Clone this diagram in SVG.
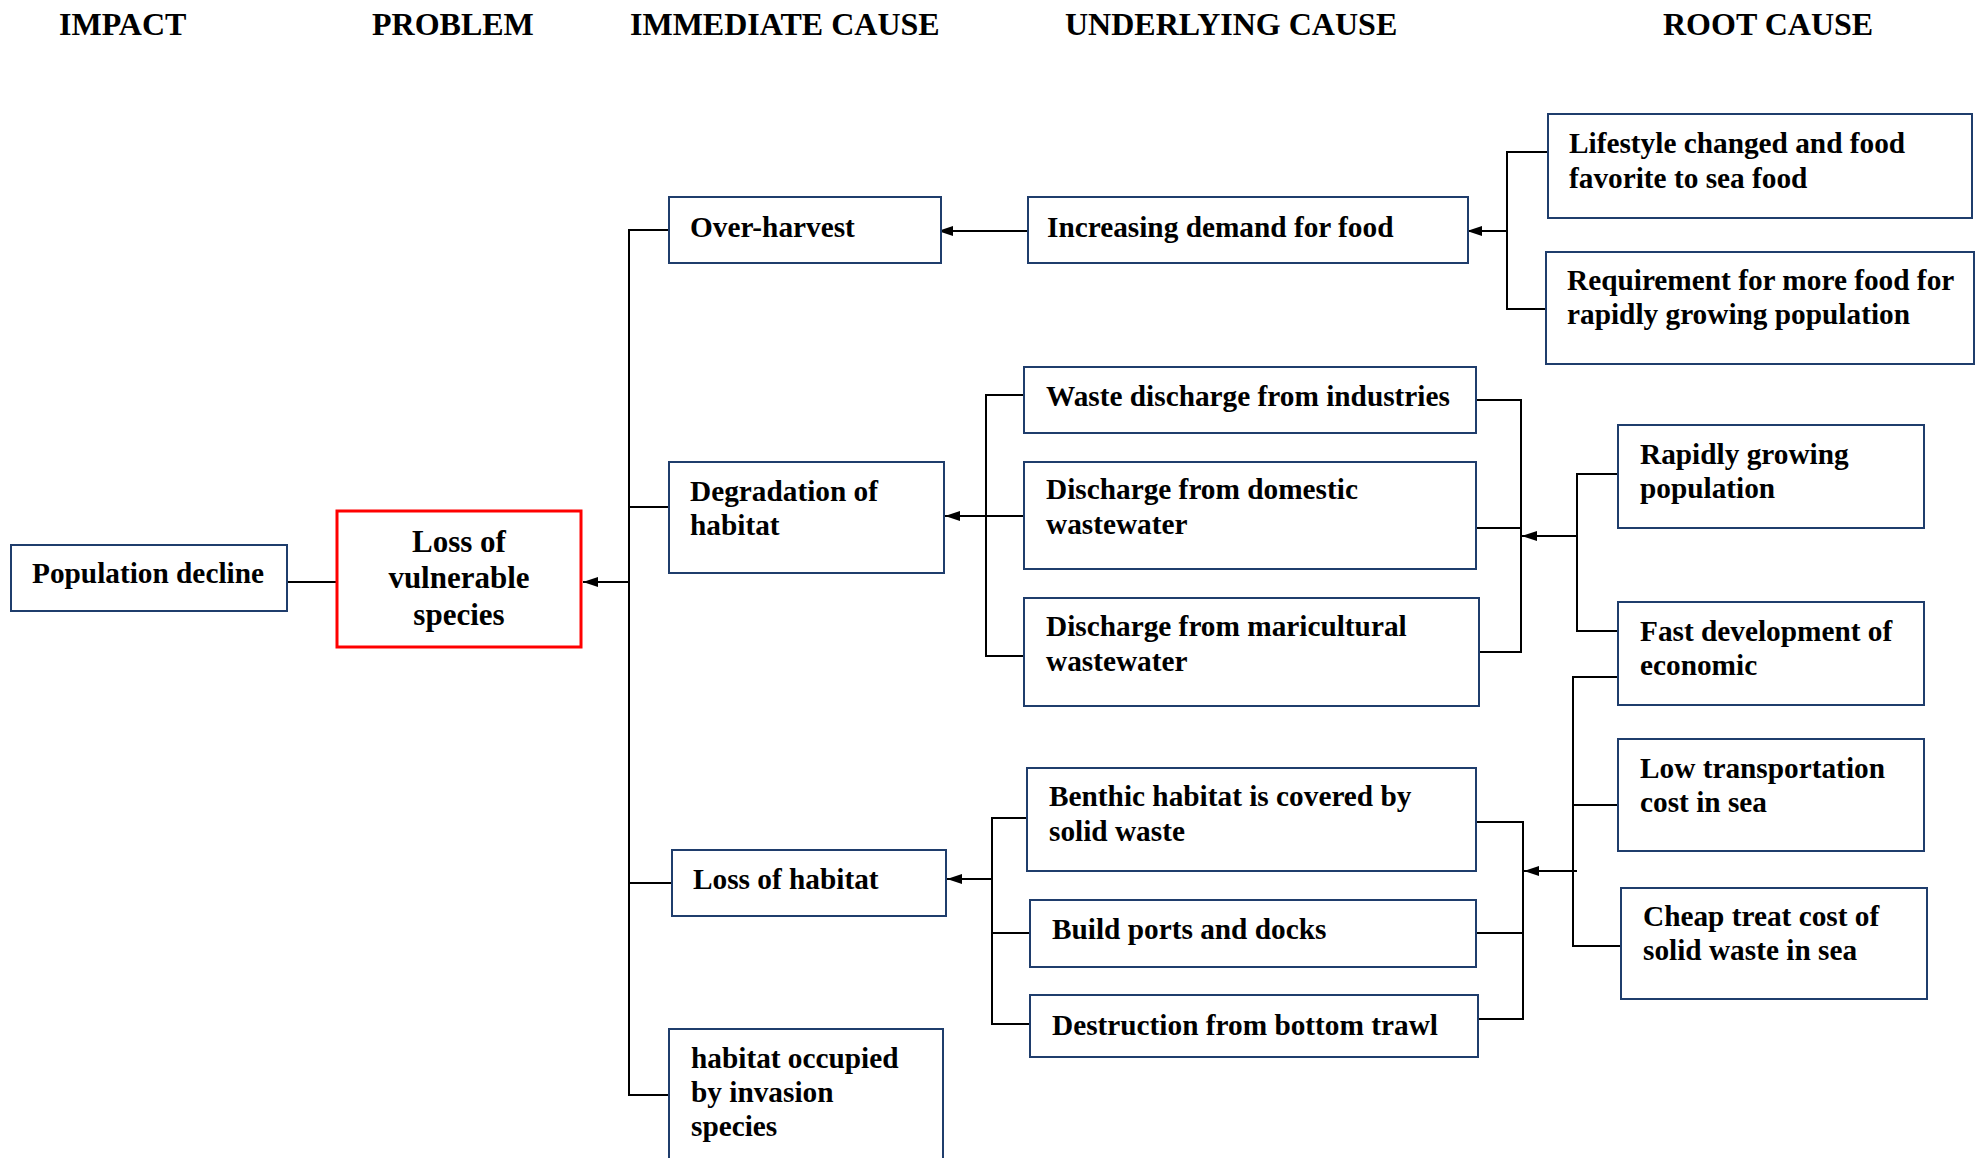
<svg xmlns="http://www.w3.org/2000/svg" width="1988" height="1158" viewBox="0 0 1988 1158">
  <style>
    .hdr { font-family: "Liberation Serif", "Times New Roman", serif; font-weight: bold; font-size: 32px; fill: #000; }
    .box { fill: #fff; stroke: #1f3d6c; stroke-width: 2; }
    .prob { fill: #fff; stroke: #ff0000; stroke-width: 3; }
    .lbl { font-family: "Liberation Serif", "Times New Roman", serif; font-weight: bold; font-size: 29.3px; fill: #000; }
    .plbl { font-family: "Liberation Serif", "Times New Roman", serif; font-weight: bold; font-size: 31px; fill: #000; text-anchor: middle; }
    .ln { fill: none; stroke: #000; stroke-width: 2; }
    .arr { fill: none; stroke: #000; stroke-width: 2; marker-end: url(#head); }
  </style>
  <defs>
    <marker id="head" markerUnits="userSpaceOnUse" markerWidth="15" markerHeight="10" refX="15" refY="5" orient="auto">
      <path d="M0,0 L15,5 L0,10 z" fill="#000"/>
    </marker>
  </defs>
  <rect width="1988" height="1158" fill="#fff"/>

  <!-- column headings -->
  <g id="headings">
    <text class="hdr" x="59" y="35">IMPACT</text>
    <text class="hdr" x="372" y="35">PROBLEM</text>
    <text class="hdr" x="630" y="35">IMMEDIATE CAUSE</text>
    <text class="hdr" x="1065" y="35">UNDERLYING CAUSE</text>
    <text class="hdr" x="1663" y="35">ROOT CAUSE</text>
  </g>

  <!-- connectors -->
  <g id="connectors">
    <!-- impact to problem -->
    <line class="ln" x1="287" y1="582" x2="342" y2="582"/>
    <!-- immediate causes trunk -->
    <polyline class="ln" points="669,230 629,230 629,1095 669,1095"/>
    <line class="ln" x1="629" y1="507" x2="669" y2="507"/>
    <line class="ln" x1="629" y1="883" x2="672" y2="883"/>
    <line class="arr" x1="629" y1="582" x2="583" y2="582"/>

    <!-- over-harvest branch -->
    <line class="arr" x1="1028" y1="231" x2="938" y2="231"/>
    <polyline class="ln" points="1548,152 1507,152 1507,309 1546,309"/>
    <line class="arr" x1="1507" y1="231" x2="1467" y2="231"/>

    <!-- degradation branch -->
    <polyline class="ln" points="1024,395 986,395 986,656 1024,656"/>
    <line class="arr" x1="1024" y1="516" x2="945" y2="516"/>
    <polyline class="ln" points="1476,400 1521,400 1521,652 1479,652"/>
    <line class="ln" x1="1476" y1="528" x2="1521" y2="528"/>
    <polyline class="ln" points="1618,474 1577,474 1577,631 1618,631"/>
    <line class="arr" x1="1577" y1="536" x2="1522" y2="536"/>

    <!-- loss of habitat branch -->
    <polyline class="ln" points="1027,818 992,818 992,1024 1030,1024"/>
    <line class="ln" x1="992" y1="933" x2="1030" y2="933"/>
    <line class="arr" x1="992" y1="879" x2="947" y2="879"/>
    <polyline class="ln" points="1476,822 1523,822 1523,1019 1478,1019"/>
    <line class="ln" x1="1476" y1="933" x2="1523" y2="933"/>
    <polyline class="ln" points="1618,677 1573,677 1573,946 1621,946"/>
    <line class="ln" x1="1573" y1="805" x2="1618" y2="805"/>
    <line class="arr" x1="1577" y1="871" x2="1524" y2="871"/>
  </g>

  <!-- impact -->
  <g id="population-decline">
    <rect class="box" x="11" y="545" width="276" height="66"/>
    <text class="lbl" x="32" y="583">Population decline</text>
  </g>

  <!-- problem -->
  <g id="loss-of-vulnerable-species">
    <rect class="prob" x="337" y="511" width="244" height="136"/>
    <text class="plbl" x="459" y="552">Loss of</text>
    <text class="plbl" x="459" y="588">vulnerable</text>
    <text class="plbl" x="459" y="625">species</text>
  </g>

  <!-- immediate causes -->
  <g id="over-harvest">
    <rect class="box" x="669" y="197" width="272" height="66"/>
    <text class="lbl" x="690" y="237">Over-harvest</text>
  </g>
  <g id="degradation-of-habitat">
    <rect class="box" x="669" y="462" width="275" height="111"/>
    <text class="lbl" x="690" y="501">Degradation of</text>
    <text class="lbl" x="690" y="535">habitat</text>
  </g>
  <g id="loss-of-habitat">
    <rect class="box" x="672" y="850" width="274" height="66"/>
    <text class="lbl" x="693" y="889">Loss of habitat</text>
  </g>
  <g id="habitat-occupied">
    <rect class="box" x="669" y="1029" width="274" height="150"/>
    <text class="lbl" x="691" y="1068">habitat occupied</text>
    <text class="lbl" x="691" y="1102">by invasion</text>
    <text class="lbl" x="691" y="1136">species</text>
  </g>

  <!-- underlying causes -->
  <g id="increasing-demand">
    <rect class="box" x="1028" y="197" width="440" height="66"/>
    <text class="lbl" x="1047" y="237">Increasing demand for food</text>
  </g>
  <g id="waste-industries">
    <rect class="box" x="1024" y="367" width="452" height="66"/>
    <text class="lbl" x="1046" y="406">Waste discharge from industries</text>
  </g>
  <g id="domestic-wastewater">
    <rect class="box" x="1024" y="462" width="452" height="107"/>
    <text class="lbl" x="1046" y="499">Discharge from domestic</text>
    <text class="lbl" x="1046" y="534">wastewater</text>
  </g>
  <g id="maricultural-wastewater">
    <rect class="box" x="1024" y="598" width="455" height="108"/>
    <text class="lbl" x="1046" y="636">Discharge from maricultural</text>
    <text class="lbl" x="1046" y="671">wastewater</text>
  </g>
  <g id="benthic-habitat">
    <rect class="box" x="1027" y="768" width="449" height="103"/>
    <text class="lbl" x="1049" y="806">Benthic habitat is covered by</text>
    <text class="lbl" x="1049" y="841">solid waste</text>
  </g>
  <g id="ports-docks">
    <rect class="box" x="1030" y="900" width="446" height="67"/>
    <text class="lbl" x="1052" y="939">Build ports and docks</text>
  </g>
  <g id="bottom-trawl">
    <rect class="box" x="1030" y="995" width="448" height="62"/>
    <text class="lbl" x="1052" y="1035">Destruction from bottom trawl</text>
  </g>

  <!-- root causes -->
  <g id="lifestyle">
    <rect class="box" x="1548" y="114" width="424" height="104"/>
    <text class="lbl" x="1569" y="153">Lifestyle changed and food</text>
    <text class="lbl" x="1569" y="188">favorite to sea food</text>
  </g>
  <g id="food-requirement">
    <rect class="box" x="1546" y="252" width="428" height="112"/>
    <text class="lbl" x="1567" y="290">Requirement for more food for</text>
    <text class="lbl" x="1567" y="324">rapidly growing population</text>
  </g>
  <g id="population-growth">
    <rect class="box" x="1618" y="425" width="306" height="103"/>
    <text class="lbl" x="1640" y="464">Rapidly growing</text>
    <text class="lbl" x="1640" y="498">population</text>
  </g>
  <g id="economic-development">
    <rect class="box" x="1618" y="602" width="306" height="103"/>
    <text class="lbl" x="1640" y="641">Fast development of</text>
    <text class="lbl" x="1640" y="675">economic</text>
  </g>
  <g id="transport-cost">
    <rect class="box" x="1618" y="739" width="306" height="112"/>
    <text class="lbl" x="1640" y="778">Low transportation</text>
    <text class="lbl" x="1640" y="812">cost in sea</text>
  </g>
  <g id="waste-treatment-cost">
    <rect class="box" x="1621" y="888" width="306" height="111"/>
    <text class="lbl" x="1643" y="926">Cheap treat cost of</text>
    <text class="lbl" x="1643" y="960">solid waste in sea</text>
  </g>
</svg>
